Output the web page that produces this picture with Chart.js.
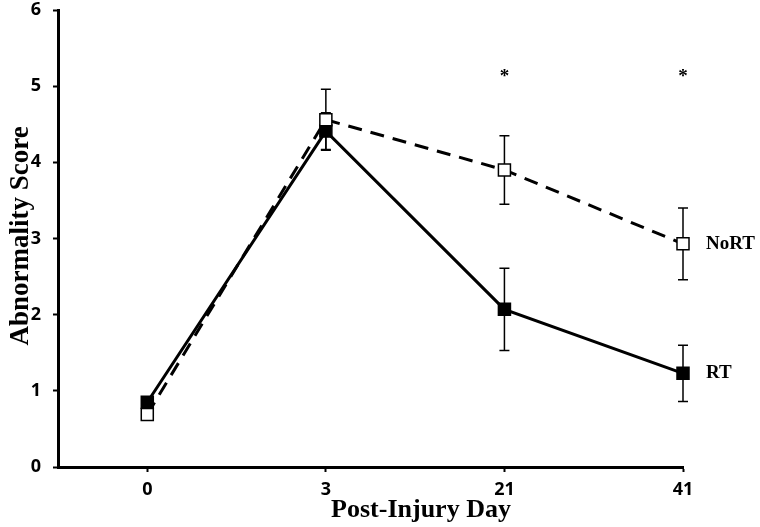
<!DOCTYPE html>
<html>
<head>
<meta charset="utf-8">
<script src="https://cdn.jsdelivr.net/npm/chart.js@4.4.0/dist/chart.umd.min.js"></script>
<style>
  body { margin: 0; background: #fff; }
  #wrap { width: 760px; height: 527px; }
</style>
</head>
<body>
<div id="wrap"><canvas id="myChart" width="760" height="527"></canvas></div>
<script>
// data
const days = ['0', '3', '21', '41'];
const rtScore = [0.85, 4.41, 2.07, 1.23];
const rtErr = [0.05, 0.24, 0.54, 0.37];
const noRtScore = [0.69, 4.56, 3.90, 2.93];
const noRtErr = [0.05, 0.40, 0.45, 0.47];
const starDays = [2, 3];   // index into days
const starLevel = 5.14;

function points(vals) {
    return vals.map((v, i) => ({ x: i, y: v }));
}

// error bars drawn under the markers
const errorBars = {
    id: 'errorBars',
    beforeDatasetsDraw(chart) {
        const { ctx, scales: { x, y } } = chart;
        const sets = [[rtScore, rtErr], [noRtScore, noRtErr]];
        ctx.save();
        ctx.strokeStyle = '#000';
        ctx.lineWidth = 1.5;
        sets.forEach(([vals, errs]) => {
            vals.forEach((v, i) => {
                const px = x.getPixelForValue(i);
                const top = y.getPixelForValue(v + errs[i]);
                const bot = y.getPixelForValue(v - errs[i]);
                ctx.beginPath();
                ctx.moveTo(px, top); ctx.lineTo(px, bot);
                ctx.moveTo(px - 5, top); ctx.lineTo(px + 5, top);
                ctx.moveTo(px - 5, bot); ctx.lineTo(px + 5, bot);
                ctx.stroke();
            });
        });
        ctx.restore();
    }
};

// titles, series labels, asterisks
const extraText = {
    id: 'extraText',
    afterDraw(chart) {
        const { ctx, scales: { x, y } } = chart;
        ctx.save();
        ctx.fillStyle = '#000';
        ctx.font = 'bold 19px "Liberation Serif"';
        ctx.textAlign = 'left';
        ctx.textBaseline = 'middle';
        const lastX = x.getPixelForValue(days.length - 1) + 23;
        ctx.fillText('NoRT', lastX, y.getPixelForValue(noRtScore[3]));
        ctx.fillText('RT', lastX, y.getPixelForValue(rtScore[3]));

        ctx.textAlign = 'center';
        ctx.font = 'bold 19px "Liberation Serif"';
        starDays.forEach(d => {
            ctx.fillText('*', x.getPixelForValue(d), y.getPixelForValue(starLevel) + 2);
        });

        ctx.font = 'bold 26px "Liberation Serif"';
        ctx.fillText('Post-Injury Day', 421, 510);

        ctx.translate(21, 236);
        ctx.rotate(-Math.PI / 2);
        ctx.font = 'bold 27px "Liberation Serif"';
        ctx.fillText('Abnormality Score', 0, 0);
        ctx.restore();
    }
};

const ctx = document.getElementById('myChart');
const chart = new Chart(ctx, {
    type: 'line',
    data: {
        datasets: [{
            label: 'NoRT',
            data: points(noRtScore),
            borderColor: '#000',
            borderWidth: 3,
            borderDash: [14, 9],
            pointStyle: 'rect',
            pointRadius: 8.5,
            pointBorderWidth: 1.5,
            pointBorderColor: '#000',
            pointBackgroundColor: '#fff',
            clip: false,
            order: 1
        }, {
            label: 'RT',
            data: points(rtScore),
            borderColor: '#000',
            borderWidth: 3,
            pointStyle: 'rect',
            pointRadius: 8.5,
            pointBorderWidth: 1.5,
            pointBorderColor: '#000',
            pointBackgroundColor: '#000',
            clip: false,
            order: 2
        }]
    },
    options: {
        responsive: false,
        animation: false,
        layout: { padding: { top: 7, right: 77, left: 0, bottom: 0 } },
        plugins: {
            legend: { display: false },
            tooltip: { enabled: false }
        },
        scales: {
            x: {
                type: 'linear',
                min: -0.5,
                max: 3,
                afterBuildTicks: (s) => { s.ticks = days.map((d, i) => ({ value: i })); },
                afterFit: (s) => { s.height = 60; s.paddingLeft = 0; s.paddingRight = 0; },
                grid: { drawOnChartArea: false, tickLength: 5, tickWidth: 2, tickColor: '#000' },
                border: { color: '#000', width: 3 },
                ticks: {
                    padding: 7,
                    color: '#000',
                    font: { family: 'Open Sans', weight: 'bold', size: 18 },
                    callback: (v) => days[v]
                }
            },
            y: {
                min: 0,
                max: 6,
                afterFit: (s) => { s.width = 58; s.paddingTop = 0; s.paddingBottom = 0; },
                grid: { drawOnChartArea: false, tickLength: 5, tickWidth: 2, tickColor: '#000' },
                border: { color: '#000', width: 3 },
                ticks: {
                    stepSize: 1,
                    padding: 12,
                    color: '#000',
                    font: { family: 'Open Sans', weight: 'bold', size: 18 }
                }
            }
        }
    },
    plugins: [errorBars, extraText]
});
</script>
</body>
</html>
